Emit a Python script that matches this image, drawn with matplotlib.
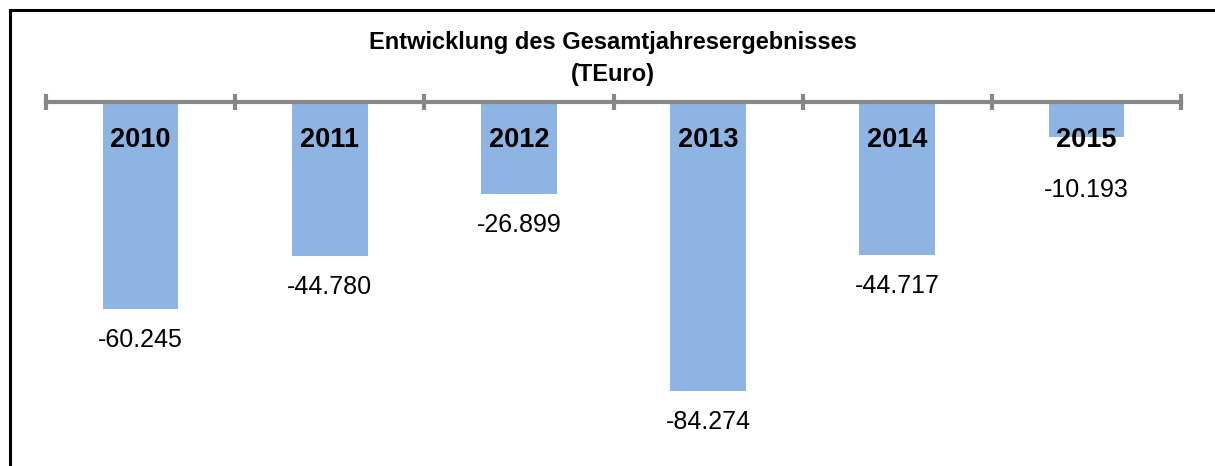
import matplotlib.pyplot as plt
from matplotlib.lines import Line2D

# =========================
# DATA
# =========================
years = ["2010", "2011", "2012", "2013", "2014", "2015"]
results = [-60.245, -44.780, -26.899, -84.274, -44.717, -10.193]
value_labels = ["-60.245", "-44.780", "-26.899", "-84.274", "-44.717", "-10.193"]

BAR_COLOR = "#8EB4E3"
AXIS_COLOR = "#878787"

plt.rcParams['font.family'] = ['Liberation Sans', 'DejaVu Sans']

fig = plt.figure(figsize=(12.15, 4.66), dpi=100)
W, H = 1215, 466

# axes: zero line at y=102 px, categories span 46..1181 px
ax = fig.add_axes([46 / W, 0, (1181 - 46) / W, (H - 102) / H])

x = list(range(len(years)))
ax.bar(x, results, width=0.4, color=BAR_COLOR, zorder=1)

ax.set_xlim(-0.5, len(years) - 0.5)
ax.set_ylim(-106.1, 0)

# =========================
# AXIS LINE + TICKS (at top)
# =========================
for side in ["left", "right", "bottom"]:
    ax.spines[side].set_visible(False)
ax.spines["top"].set_color(AXIS_COLOR)
ax.spines["top"].set_linewidth(3)
ax.spines["top"].set_zorder(3)
ax.xaxis.set_ticks_position("top")
ax.set_xticks([i - 0.5 for i in range(len(years) + 1)])
ax.tick_params(axis="x", direction="inout", length=11, width=3,
               color=AXIS_COLOR, labeltop=False, labelbottom=False)
ax.set_yticks([])

# =========================
# LABELS
# =========================
for i, (yr, val, lab) in enumerate(zip(years, results, value_labels)):
    ax.annotate(yr, xy=(i, 0), xytext=(0, -38), textcoords="offset pixels",
                ha="center", va="center", fontsize=19.5, fontweight="bold",
                color="black")
    offset = 53 if abs(val) < 20 else 31
    ax.annotate(lab, xy=(i, val), xytext=(0, -offset), textcoords="offset pixels",
                ha="center", va="center", fontsize=18, color="black")

# =========================
# TITLE
# =========================
fig.text(613 / W, 1 - 43 / H, "Entwicklung des Gesamtjahresergebnisses",
         ha="center", va="center", fontsize=17, fontweight="bold")
fig.text(613 / W, 1 - 75 / H, "(TEuro)",
         ha="center", va="center", fontsize=17, fontweight="bold")

# =========================
# FRAME (left + top)
# =========================
fig.add_artist(Line2D([10 / W, 10 / W], [0, 1 - 10 / H], color="black", lw=2.2))
fig.add_artist(Line2D([10 / W, 1], [1 - 10 / H, 1 - 10 / H], color="black", lw=2.2))

fig.savefig("out.png", dpi=100)
